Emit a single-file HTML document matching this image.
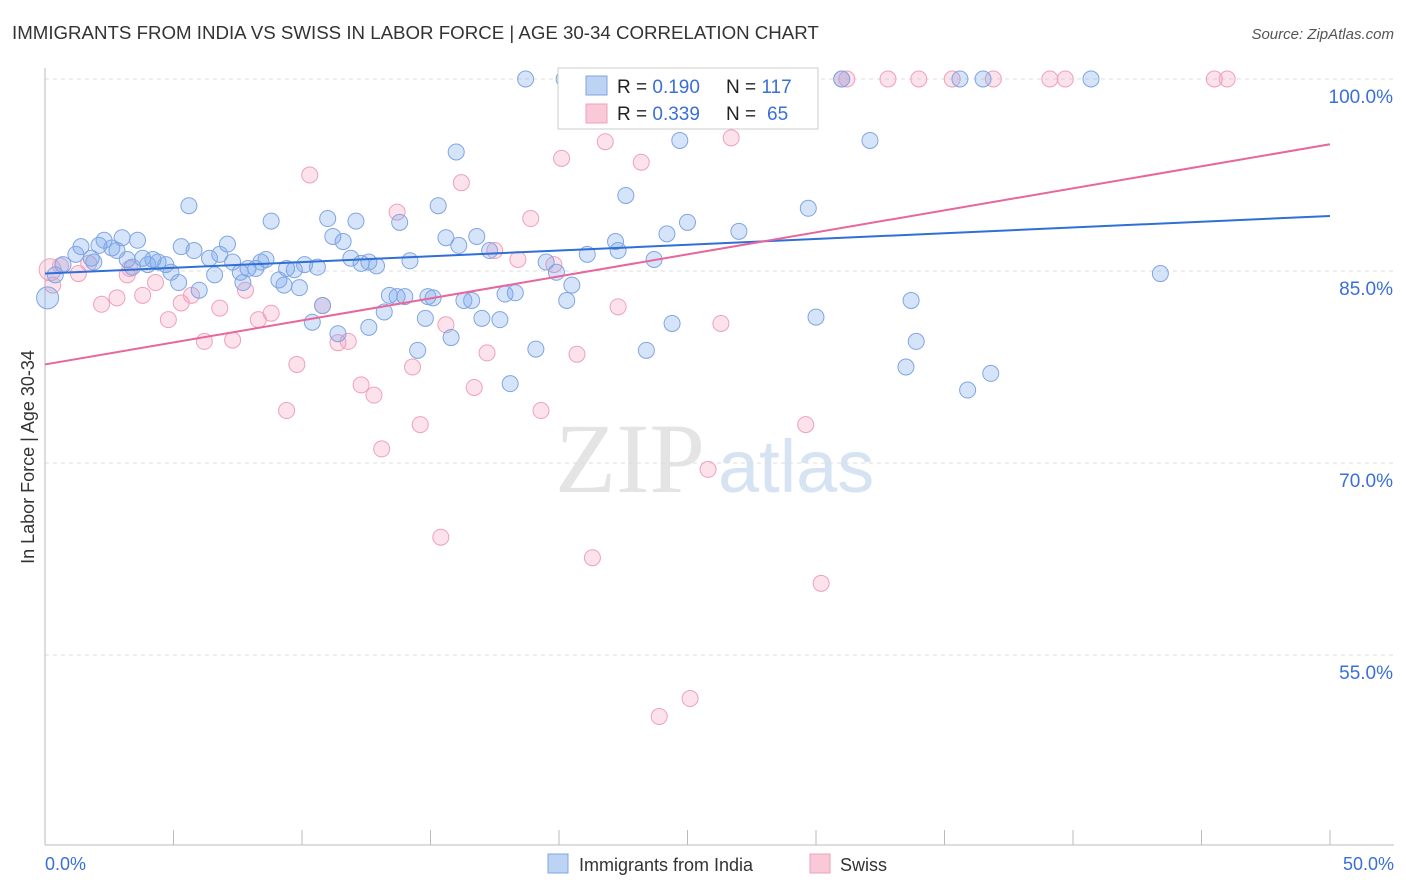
<!DOCTYPE html>
<html><head><meta charset="utf-8"><style>
body{margin:0;background:#fff;font-family:"Liberation Sans",sans-serif}
#wrap{position:relative;width:1406px;height:892px;overflow:hidden}
</style></head><body>
<div id="wrap">
<svg id="svg" width="1406" height="892" xmlns="http://www.w3.org/2000/svg">
<text x="12" y="39" font-size="18.7" fill="#333">IMMIGRANTS FROM INDIA VS SWISS IN LABOR FORCE | AGE 30-34 CORRELATION CHART</text>
<text x="1394" y="39" font-size="15" fill="#555" font-style="italic" text-anchor="end">Source: ZipAtlas.com</text>
<text x="555" y="492" font-size="100" fill="#e4e4e4" font-family="Liberation Serif,serif">ZIP</text>
<text x="718" y="492" font-size="74" fill="#d6e3f3">atlas</text>
<text transform="translate(34,457) rotate(-90)" font-size="18" fill="#333" text-anchor="middle">In Labor Force | Age 30-34</text>
<g id="grid"></g><g id="marks"></g><g id="lines"></g>
<g>
<rect x="558" y="68" width="260" height="61" fill="#fff" stroke="#ccc"/>
<rect x="586" y="76" width="21" height="19" fill="#bcd3f3" stroke="#7fa5e3"/>
<rect x="586" y="104" width="21" height="19" fill="#f9c9d8" stroke="#f0a0bb"/>
<text x="617" y="93" font-size="19" fill="#222">R = <tspan fill="#3a6fd8">0.190</tspan><tspan x="726">N = </tspan><tspan fill="#3a6fd8">117</tspan></text>
<text x="617" y="120" font-size="19" fill="#222">R = <tspan fill="#3a6fd8">0.339</tspan><tspan x="726">N = </tspan><tspan x="767" fill="#3a6fd8">65</tspan></text>
</g>
<g>
<rect x="548" y="854" width="20" height="19" fill="#bcd3f3" stroke="#7fa5e3"/>
<text x="579" y="871" font-size="18" fill="#333">Immigrants from India</text>
<rect x="810" y="854" width="20" height="19" fill="#f9c9d8" stroke="#f0a0bb"/>
<text x="840" y="871" font-size="18" fill="#333">Swiss</text>
</g>
</svg></div>
<script>
const indiaX=[0.1,0.4,0.7,1.2,1.4,1.8,1.9,2.1,2.3,2.6,2.8,3.0,3.2,3.4,3.6,3.8,4.0,4.2,4.4,4.7,4.9,5.2,5.3,5.6,5.8,6.0,6.4,6.6,6.8,7.1,7.3,7.6,7.7,7.9,8.2,8.4,8.6,8.8,9.1,9.3,9.4,9.7,9.9,10.1,10.4,10.6,10.8,11.0,11.2,11.4,11.6,11.9,12.1,12.3,12.6,12.6,12.9,13.2,13.4,13.7,13.8,14.0,14.2,14.5,14.8,14.9,15.1,15.3,15.6,15.8,16.0,16.1,16.3,16.6,16.8,17.0,17.3,17.7,17.9,18.1,18.3,18.7,19.1,19.5,19.9,20.2,20.3,20.5,21.1,22.2,22.3,22.6,23.4,23.7,24.4,24.7,24.2,25.0,27.0,29.7,30.0,31.0,32.1,33.5,33.7,33.9,35.6,35.9,36.5,36.8,40.7,43.4];
const indiaY=[82.9,84.7,85.5,86.3,86.9,86.0,85.7,87.0,87.4,86.8,86.6,87.6,85.9,85.3,87.4,86.0,85.5,85.9,85.7,85.5,84.9,84.1,86.9,90.1,86.6,83.5,86.0,84.7,86.3,87.1,85.7,84.9,84.1,85.2,85.2,85.7,85.9,88.9,84.3,83.9,85.2,85.1,83.7,85.5,81.0,85.3,82.3,89.1,87.7,80.1,87.3,86.0,88.9,85.6,80.6,85.7,85.4,81.8,83.1,83.0,88.8,83.0,85.8,78.8,81.3,83.0,82.9,90.1,87.6,79.8,94.3,87.0,82.7,82.7,87.7,81.3,86.6,81.2,83.2,76.2,83.3,100,78.9,85.7,84.9,100,82.7,83.9,86.3,87.3,86.6,90.9,78.8,85.9,80.9,95.2,87.9,88.8,88.1,89.9,81.4,100,95.2,77.5,82.7,79.5,100,75.7,100,77.0,100,84.8];
const swissX=[0.2,0.3,0.6,1.3,1.7,2.2,2.8,3.2,3.3,3.8,4.3,4.8,5.3,5.7,6.2,6.8,7.3,7.8,8.3,8.8,9.4,9.8,10.3,10.8,11.4,11.8,12.3,12.8,13.1,13.7,14.3,14.6,15.4,15.6,16.2,16.7,17.2,17.5,18.4,18.9,19.3,19.8,20.1,20.7,21.3,21.8,22.3,23.2,23.9,25.1,25.8,26.3,26.7,29.6,30.2,31.0,31.2,32.8,34.0,35.3,36.9,39.1,39.7,45.5,46.0];
const swissY=[85.1,83.9,85.4,84.8,85.6,82.4,82.9,84.7,85.2,83.1,84.1,81.2,82.5,83.1,79.5,82.1,79.6,83.5,81.2,81.7,74.1,77.7,92.5,82.3,79.4,79.5,76.1,75.3,71.1,89.6,77.5,73.0,64.2,80.8,91.9,75.9,78.6,86.6,85.9,89.1,74.1,85.5,93.8,78.5,62.6,95.1,82.2,93.5,50.2,51.6,69.5,80.9,95.4,73.0,60.6,100,100,100,100,100,100,100,100,100,100];
const indiaTrend=[84.8,89.3];
const swissTrend=[77.7,94.9];
const yTicks=[100,85,70,55];
const yTickLabels=["100.0%","85.0%","70.0%","55.0%"];
const xTickLabels=["0.0%","50.0%"];
const NS="http://www.w3.org/2000/svg";
const sx=v=>45+v*25.7, sy=v=>79+(100-v)*12.8;
function mk(tag,attrs,parent){const e=document.createElementNS(NS,tag);for(const k in attrs)e.setAttribute(k,attrs[k]);parent.appendChild(e);return e;}
const grid=document.getElementById('grid'),marks=document.getElementById('marks'),lines=document.getElementById('lines');
yTicks.forEach((t,i)=>{
 const l=mk('line',{x1:45,x2:1394,y1:sy(t),y2:sy(t),stroke:'#ddd','stroke-dasharray':'4,4'},grid);
 
 
 const tx=mk('text',{x:1393,y:sy(t)+24,'font-size':19,fill:'#3a6fd8','text-anchor':'end'},grid);tx.textContent=yTickLabels[i];
 
 
});
let ax=mk('line',{x1:45,x2:45,y1:68,y2:845,stroke:'#bbb'},grid);


let bx=mk('line',{x1:45,x2:1394,y1:845,y2:845,stroke:'#bbb'},grid);


for(let i=0;i<=10;i++){const t=mk('line',{x1:sx(i*5),x2:sx(i*5),y1:830,y2:845,stroke:'#bbb'},grid);
 
 }
[[0,'start',45],[50,'end',1394]].forEach((d,i)=>{const t=mk('text',{x:d[2],y:870,'font-size':18,fill:'#3a6fd8','text-anchor':d[1]},grid);t.textContent=xTickLabels[i];
 
 });
swissX.forEach((x,i)=>{const c=mk('circle',{cx:sx(x),cy:sy(swissY[i]),r:i===0?11:8,fill:'rgba(244,160,190,0.3)',stroke:'#f0a0bb','stroke-width':1},marks);
 
 });
indiaX.forEach((x,i)=>{const c=mk('circle',{cx:sx(x),cy:sy(indiaY[i]),r:i===0?11:8,fill:'rgba(120,165,235,0.3)',stroke:'#7fa5e3','stroke-width':1},marks);
 
 });
let l1=mk('line',{x1:sx(0),y1:sy(indiaTrend[0]),x2:sx(50),y2:sy(indiaTrend[1]),stroke:'#2f6fd6','stroke-width':2},lines);


let l2=mk('line',{x1:sx(0),y1:sy(swissTrend[0]),x2:sx(50),y2:sy(swissTrend[1]),stroke:'#e8669a','stroke-width':2},lines);


</script>
</body></html>
